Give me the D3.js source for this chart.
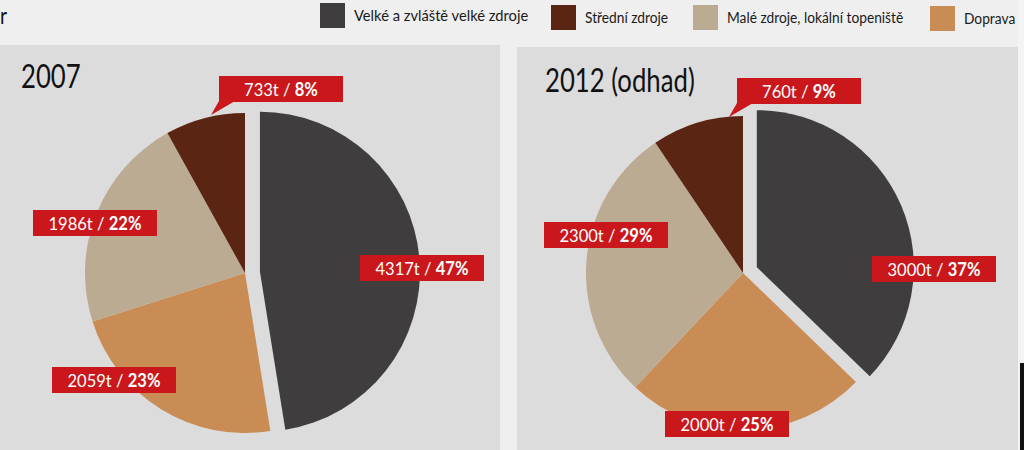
<!DOCTYPE html>
<html><head><meta charset="utf-8">
<script src="https://cdn.jsdelivr.net/npm/d3@7"></script>
<style>body{margin:0;background:#efefef;} svg{display:block}</style>
</head><body><svg id="c" width="1024" height="450"></svg>
<script>
// ---- data ----
const categories = ["Velké a zvláště velké zdroje", "Střední zdroje", "Malé zdroje, lokální topeniště", "Doprava"];
const years = ["2007", "2012 (odhad)"];
const tons2007 = [4317, 733, 1986, 2059];
const tons2012 = [3000, 760, 2300, 2000];
const pct2007 = [47, 8, 22, 23];
const pct2012 = [37, 9, 29, 25];

// ---- styles / layout ----
const colors = ["#403d3e", "#5a2512", "#bcab93", "#c98c55"];
const sliceOrder = [0, 3, 2, 1]; // clockwise from 12 o'clock
const FONT = "Lato, 'Open Sans', sans-serif";
const RED = "#c9171c";

const svg = d3.select("#c");
svg.append("rect").attr("width", 1024).attr("height", 450).attr("fill", "#efefef");

// condensed text helper
function ctext(parent, x, y, size, sx, anchor) {
  return parent.append("g").attr("transform", `translate(${x},${y}) scale(${sx},1)`)
    .append("text").attr("font-family", FONT).attr("font-size", size)
    .attr("text-anchor", anchor || "start");
}

// cropped glyph at top-left (from the source page)
ctext(svg, 0, 24, 24, 0.8).attr("fill", "#111").text("r");

// legend
const legendX = [320, 551, 693, 930];
const legendY = [3, 5, 5, 6];
const lg = svg.append("g");
categories.forEach((c, i) => {
  lg.append("rect").attr("x", legendX[i]).attr("y", legendY[i]).attr("width", 25).attr("height", 25)
    .attr("fill", colors[i]);
  ctext(lg, legendX[i] + 34, legendY[i] + 18, 16, i === 0 ? 0.92 : 0.86).attr("fill", "#1a1a1a").text(c);
});

const panels = [
  {x: 0, y: 45, w: 500, h: 405, cx: 245, cy: 273, r: 160, title: years[0], tx: 21, ty: 88,
   tons: tons2007, pct: pct2007,
   labelOff: [[177, -5], [36, -184], [-150, -50], [-131, 107]]},
  {x: 517, y: 47, w: 501, h: 403, cx: 743, cy: 273, r: 157, title: years[1], tx: 545, ty: 92,
   tons: tons2012, pct: pct2012,
   labelOff: [[191, -4], [56, -182], [-137, -38], [-16, 151]]}
];

const pie = d3.pie().sort(null).value(d => d.v);
const arc = d3.arc().innerRadius(0);
const explode = 15;

panels.forEach(p => {
  const g = svg.append("g");
  g.append("rect").attr("x", p.x).attr("y", p.y).attr("width", p.w).attr("height", p.h).attr("fill", "#dcdcdc");
  ctext(g, p.tx, p.ty, 33, 0.78).attr("fill", "#111").text(p.title);

  const data = sliceOrder.map(i => ({i, v: p.tons[i]}));
  const arcs = pie(data);
  arc.outerRadius(p.r);
  const pg = g.append("g").attr("transform", `translate(${p.cx},${p.cy})`);
  pg.selectAll("path").data(arcs).join("path")
    .attr("d", arc)
    .attr("fill", d => colors[d.data.i])
    .attr("transform", d => {
      if (d.data.i !== 0) return null;
      const a = (d.startAngle + d.endAngle) / 2;
      return `translate(${explode * Math.sin(a)},${-explode * Math.cos(a)})`;
    });

  // labels
  const bw = 124, bh = 26;
  p.tons.forEach((t, i) => {
    const [dx, dy] = p.labelOff[i];
    const bx = p.cx + dx - bw / 2, by = p.cy + dy - bh / 2;
    if (i === 1) {
      g.append("path").attr("d", `M${bx},${by + bh - 1} L${bx + 16},${by + bh - 1} L${bx - 8},${by + bh + 13} Z`)
        .attr("fill", RED);
    }
    g.append("rect").attr("x", bx).attr("y", by).attr("width", bw).attr("height", bh).attr("fill", RED);
    const tx = ctext(g, bx + bw / 2, by + bh / 2 + 7, 18, 0.92, "middle").attr("fill", "#fff");
    tx.append("tspan").text(`${t}t / `);
    tx.append("tspan").attr("font-weight", "bold").text(`${p.pct[i]}%`);
  });
});

// scan edge artifact on the right
svg.append("rect").attr("x", 1018).attr("y", 0).attr("width", 6).attr("height", 450).attr("fill", "#f4f4f4");
svg.append("rect").attr("x", 1020).attr("y", 363).attr("width", 4).attr("height", 87).attr("fill", "#111");
</script></body></html>
